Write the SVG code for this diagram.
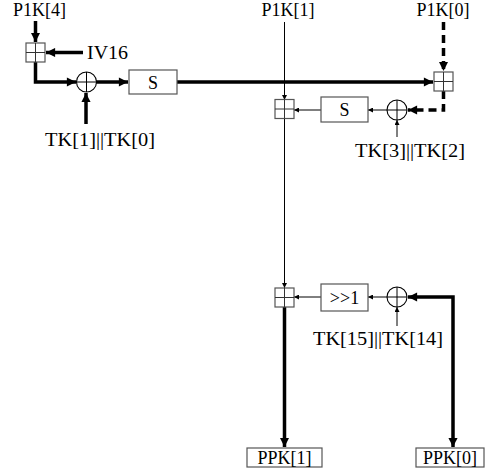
<svg xmlns="http://www.w3.org/2000/svg" width="486" height="469" viewBox="0 0 486 469">
<style>
text{font-family:"Liberation Serif","Times New Roman",serif;font-size:18px;fill:#000;text-anchor:middle}
.box{fill:#fff;stroke:#555;stroke-width:1.2}
.xor{fill:#fff;stroke:#000;stroke-width:1.1}
.thick{fill:none;stroke:#000;stroke-width:3.5}
.thin{fill:none;stroke:#000;stroke-width:1}
.dash{stroke-dasharray:8 5}
</style>
<defs>
<marker id="ah" viewBox="0 0 10 10" refX="10" refY="5" markerWidth="3" markerHeight="2.6" orient="auto-start-reverse" markerUnits="strokeWidth">
<path d="M0,0 L10,5 L0,10 z" fill="#000"/>
</marker>
<marker id="as" viewBox="0 0 10 10" refX="10" refY="5" markerWidth="7" markerHeight="5" orient="auto-start-reverse" markerUnits="strokeWidth">
<path d="M0,0 L10,5 L0,10 z" fill="#000"/>
</marker>
<g id="plus"><rect class="box" x="-9.5" y="-9.5" width="19" height="19"/><path d="M0,-9.5V9.5M-9.5,0H9.5" stroke="#333" stroke-width="1"/></g>
<g id="xr"><circle class="xor" r="10"/><path d="M0,-10V10M-10,0H10" stroke="#000" stroke-width="1"/></g>
</defs>
<g id="connectors">
<path class="thick" d="M35.5,21V42" marker-end="url(#ah)"/>
<path class="thick" d="M83,52.5H46" marker-end="url(#ah)"/>
<path class="thick" d="M35.5,62V82H76" marker-end="url(#ah)"/>
<path class="thick" d="M86,124V93" marker-end="url(#ah)"/>
<path class="thick" d="M96,82H128" marker-end="url(#ah)"/>
<path class="thick" d="M177,82H433" marker-end="url(#ah)"/>
<path class="thick dash" d="M443.5,22V71" marker-end="url(#ah)"/>
<path class="thick dash" d="M443.5,91V110H408" marker-end="url(#ah)"/>
<path class="thin" d="M397,137V120" marker-end="url(#as)"/>
<path class="thin" d="M387,110H368" marker-end="url(#as)"/>
<path class="thin" d="M321,110H294" marker-end="url(#as)"/>
<path class="thin" d="M284.5,22V100" marker-end="url(#as)"/>
<path class="thin" d="M284.5,119V288" marker-end="url(#as)"/>
<path class="thin" d="M397,326V307" marker-end="url(#as)"/>
<path class="thin" d="M387,297H368" marker-end="url(#as)"/>
<path class="thin" d="M321,297H294" marker-end="url(#as)"/>
<path class="thick" d="M408,297H453V447" marker-start="url(#ah)" marker-end="url(#ah)"/>
<path class="thick" d="M284.5,307V447" marker-end="url(#ah)"/>
</g>
<g id="n-p1k4"><text x="39.5" y="16">P1K[4]</text></g>
<g id="n-p1k1"><text x="288" y="16">P1K[1]</text></g>
<g id="n-p1k0"><text x="443" y="16">P1K[0]</text></g>
<g id="n-addA"><use href="#plus" x="35.5" y="52.5"/></g>
<g id="n-iv16"><text x="87" y="58.5" style="text-anchor:start" textLength="41" lengthAdjust="spacingAndGlyphs">IV16</text></g>
<g id="n-xor1"><use href="#xr" x="86.5" y="82"/></g>
<g id="n-tk10"><text x="100" y="146" textLength="110" lengthAdjust="spacingAndGlyphs">TK[1]||TK[0]</text></g>
<g id="n-s1"><rect class="box" x="129" y="70" width="48" height="24"/><text x="153" y="89">S</text></g>
<g id="n-addB"><use href="#plus" x="443.5" y="81.5"/></g>
<g id="n-addC"><use href="#plus" x="284.5" y="109"/></g>
<g id="n-s2"><rect class="box" x="321" y="97" width="47" height="25"/><text x="344.5" y="116">S</text></g>
<g id="n-xor2"><use href="#xr" x="397" y="110"/></g>
<g id="n-tk32"><text x="410" y="157" textLength="110" lengthAdjust="spacingAndGlyphs">TK[3]||TK[2]</text></g>
<g id="n-addD"><use href="#plus" x="284.5" y="297.5"/></g>
<g id="n-shift"><rect class="box" x="321" y="284" width="47" height="27"/><text x="344.5" y="303.5">&gt;&gt;1</text></g>
<g id="n-xor3"><use href="#xr" x="397" y="297"/></g>
<g id="n-tk1514"><text x="378" y="345" textLength="130" lengthAdjust="spacingAndGlyphs">TK[15]||TK[14]</text></g>
<g id="n-ppk1"><rect class="box" x="247" y="448" width="75" height="19"/><text x="284.5" y="464">PPK[1]</text></g>
<g id="n-ppk0"><rect class="box" x="416" y="448" width="68" height="19"/><text x="450" y="464">PPK[0]</text></g>
</svg>
